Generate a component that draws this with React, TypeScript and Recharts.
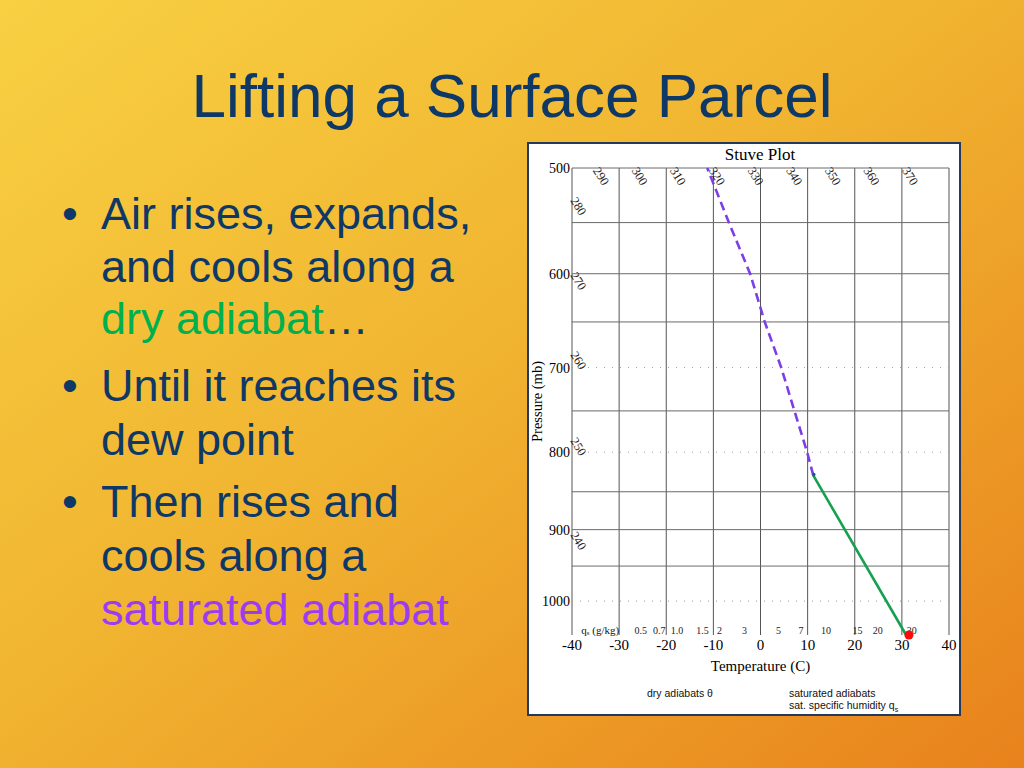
import React from "react";
import { ComposedChart, Line, Scatter, XAxis, YAxis, ReferenceLine } from "recharts";

// Stuve diagram: vertical coordinate is p^kappa
const KAPPA = 0.286;
const pk = (p: number) => Math.pow(p, KAPPA);

const SERIF = "'Liberation Serif', 'Times New Roman', serif";
const SANS = "'Liberation Sans', Arial, Helvetica, sans-serif";
const NAVY = "#0e3866";

// axes
const tempTicks = [-40, -30, -20, -10, 0, 10, 20, 30, 40];
const pressureTicks = [500, 600, 700, 800, 900, 1000];
const solidIsobars = [500, 550, 600, 650, 750, 850, 900, 950];
const dottedIsobars = [700, 800, 1000];

// parcel: surface -> LCL along dry adiabat
const dryTemp = [30.9, 11.2];
const dryPres = [1050, 829];
// LCL -> 500 mb along saturated adiabat
const satTemp = [11.2, 9.9, 7.2, 4.4, 0.9, -2.2, -6.7, -11.3];
const satPres = [829, 800, 750, 700, 650, 600, 550, 500];
// surface parcel and LCL marker
const surfaceTemp = [31.5];
const surfacePres = [1050];
const lclTemp = [11.3];
const lclPres = [828];

// dry adiabat labels (theta, K) at top and left edges
const thetaTop = [290, 300, 310, 320, 330, 340, 350, 360, 370];
const thetaTopTemp = [-35.2, -27, -18.9, -10.6, -2.4, 5.8, 14, 22.2, 30.4];
const thetaLeft = [280, 270, 260, 250, 240];
const thetaLeftPres = [527, 599, 683, 783, 904];

// saturated specific humidity labels (g/kg) near the bottom
const qsLabels = ["0.5", "0.7", "1.0", "1.5", "2", "3", "5", "7", "10", "15", "20", "30"];
const qsTemp = [-25.4, -21.5, -17.7, -12.3, -8.7, -3.4, 3.8, 8.6, 13.9, 20.6, 24.9, 32.1];
const qsPres = 1043;

const dryData = dryTemp.map((t, i) => ({ t, y: pk(dryPres[i]) }));
const satData = satTemp.map((t, i) => ({ t, y: pk(satPres[i]) }));
const surfaceData = surfaceTemp.map((t, i) => ({ t, y: pk(surfacePres[i]) }));
const lclData = lclTemp.map((t, i) => ({ t, y: pk(lclPres[i]) }));
const thetaData = [
  ...thetaTop.map((th, i) => ({ t: thetaTopTemp[i], y: pk(500), label: String(th) })),
  ...thetaLeft.map((th, i) => ({ t: -40, y: pk(thetaLeftPres[i]), label: String(th) })),
];
const qsData = qsLabels.map((q, i) => ({ t: qsTemp[i], y: pk(qsPres), label: q }));
const qsHeader = [{ t: -34, y: pk(qsPres) }];

const ThetaLabel = (props: any) => {
  const { cx, cy, payload } = props;
  return (
    <text transform={`translate(${cx},${cy}) rotate(58)`} x={1} y={3} fontSize={12.5} fontFamily={SERIF} fill="#222">
      {payload.label}
    </text>
  );
};

const QsLabel = (props: any) => (
  <text x={props.cx} y={props.cy} textAnchor="middle" dominantBaseline="central" fontSize={10} fontFamily={SERIF} fill="#222">
    {props.payload.label}
  </text>
);

const QsHeader = (props: any) => (
  <text x={props.cx} y={props.cy} textAnchor="middle" dominantBaseline="central" fontSize={11} fontFamily={SERIF} fill="#111">
    <tspan>q</tspan>
    <tspan dy={3} fontSize={7}>s</tspan>
    <tspan dy={-3}> (g/kg)</tspan>
  </text>
);

const PressureLabel = (props: any) => {
  const vb = props.viewBox || { x: 0, y: 24, width: 43, height: 467 };
  const cx = vb.x + 8;
  const cy = vb.y + vb.height / 2;
  return (
    <text x={cx} y={cy} transform={`rotate(-90 ${cx} ${cy})`} textAnchor="middle" dominantBaseline="central" fontSize={14.5} fontFamily={SERIF} fill="#000">
      Pressure (mb)
    </text>
  );
};

const StuvePlot = () => (
  <ComposedChart width={430} height={570} margin={{ top: 24, right: 10, bottom: 0, left: 0 }}>
    <XAxis
      type="number"
      dataKey="t"
      domain={[-40, 40]}
      ticks={tempTicks}
      axisLine={false}
      tickLine={false}
      tickSize={0}
      tickMargin={4}
      height={79}
      interval={0}
      tick={{ fill: "#000", fontSize: 15, fontFamily: SERIF }}
      label={{ value: "Temperature (C)", position: "insideBottom", offset: 43, fill: "#000", fontSize: 15, fontFamily: SERIF }}
    />
    <YAxis
      type="number"
      dataKey="y"
      domain={[pk(500), pk(1050)]}
      reversed
      ticks={pressureTicks.map(pk)}
      tickFormatter={(v: number) => String(Math.round(Math.pow(v, 1 / KAPPA)))}
      axisLine={false}
      tickLine={false}
      tickSize={0}
      tickMargin={2}
      width={43}
      interval={0}
      tick={{ fill: "#000", fontSize: 14, fontFamily: SERIF }}
      label={<PressureLabel />}
    />
    {tempTicks.map((t) => (
      <ReferenceLine key={`t${t}`} x={t} stroke="#555" strokeWidth={1} />
    ))}
    {solidIsobars.map((p) => (
      <ReferenceLine key={`p${p}`} y={pk(p)} stroke="#6a6a6a" strokeWidth={1} />
    ))}
    {dottedIsobars.map((p) => (
      <ReferenceLine key={`d${p}`} y={pk(p)} stroke="#9a9a9a" strokeWidth={1} strokeDasharray="1 7" />
    ))}
    <Scatter data={thetaData} shape={ThetaLabel} isAnimationActive={false} />
    <Scatter data={qsData} shape={QsLabel} isAnimationActive={false} />
    <Scatter data={qsHeader} shape={QsHeader} isAnimationActive={false} />
    <Line data={satData} dataKey="y" type="linear" stroke="#7c3fe6" strokeWidth={2.6} strokeDasharray="9 5" dot={false} isAnimationActive={false} />
    <Line data={dryData} dataKey="y" type="linear" stroke="#17a050" strokeWidth={2.6} dot={false} isAnimationActive={false} />
    <Scatter data={lclData} fill="#2d4c9c" shape={(p: any) => <circle cx={p.cx} cy={p.cy} r={1.8} fill="#2d4c9c" />} isAnimationActive={false} />
    <Scatter data={surfaceData} fill="#ff0a0a" shape="circle" isAnimationActive={false} />
  </ComposedChart>
);

export default function App() {
  const bulletText = { fontFamily: SANS, fontSize: 45, fill: NAVY };
  return (
    <div
      style={{
        position: "absolute",
        left: 0,
        top: 0,
        width: 1024,
        height: 768,
        overflow: "hidden",
        background: "linear-gradient(to bottom right, #f8d042 0%, #f1b531 45%, #e8821c 100%)",
      }}
    >
      <svg width={1024} height={768} style={{ position: "absolute", left: 0, top: 0 }}>
        <text x={512} y={117} textAnchor="middle" fontFamily={SANS} fontSize={62} fill={NAVY}>
          Lifting a Surface Parcel
        </text>
        <text x={62} y={229} {...bulletText}>•</text>
        <text x={101} y={229} {...bulletText}>Air rises, expands,</text>
        <text x={101} y={282} {...bulletText}>and cools along a</text>
        <text x={101} y={334} {...bulletText}>
          <tspan fill="#00b050">dry adiabat</tspan>
          <tspan fill={NAVY}>…</tspan>
        </text>
        <text x={62} y={401} {...bulletText}>•</text>
        <text x={101} y={401} {...bulletText}>Until it reaches its</text>
        <text x={101} y={455} {...bulletText}>dew point</text>
        <text x={62} y={517} {...bulletText}>•</text>
        <text x={101} y={517} {...bulletText}>Then rises and</text>
        <text x={101} y={571} {...bulletText}>cools along a</text>
        <text x={101} y={625} {...bulletText} fill="#9b3cf2">saturated adiabat</text>
      </svg>
      <div
        style={{
          position: "absolute",
          left: 527,
          top: 142,
          width: 434,
          height: 574,
          boxSizing: "border-box",
          border: "2px solid #24395c",
          background: "#fff",
        }}
      >
        <StuvePlot />
        <div style={{ position: "absolute", left: 171, top: 1, width: 120, textAlign: "center", fontFamily: SERIF, fontSize: 17, lineHeight: "20px", color: "#000" }}>
          Stuve Plot
        </div>
        <div style={{ position: "absolute", left: 118, top: 543, fontFamily: SANS, fontSize: 10.5, lineHeight: "12px", color: "#111", whiteSpace: "nowrap" }}>
          dry adiabats θ
        </div>
        <div style={{ position: "absolute", left: 260, top: 543, fontFamily: SANS, fontSize: 10.5, lineHeight: "12px", color: "#111", whiteSpace: "nowrap" }}>
          saturated adiabats
        </div>
        <div style={{ position: "absolute", left: 260, top: 555, fontFamily: SANS, fontSize: 10.5, lineHeight: "12px", color: "#111", whiteSpace: "nowrap" }}>
          sat. specific humidity q<sub style={{ fontSize: 7 }}>s</sub>
        </div>
      </div>
    </div>
  );
}
